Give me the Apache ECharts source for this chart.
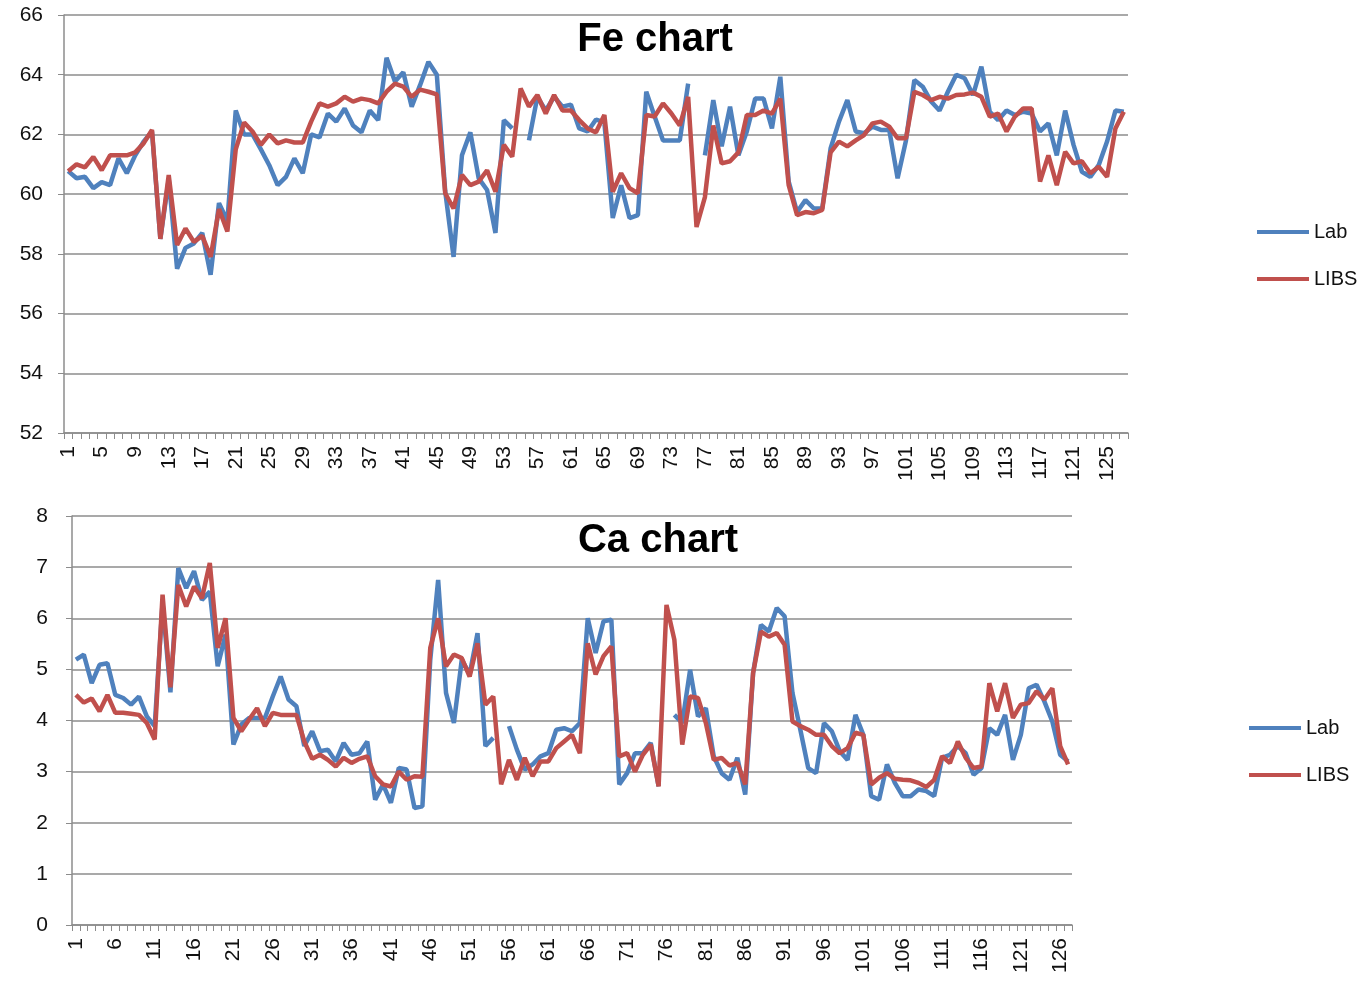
<!DOCTYPE html>
<html><head><meta charset="utf-8">
<script src="https://cdn.jsdelivr.net/npm/echarts@6/dist/echarts.min.js"></script>
<style>html,body{margin:0;padding:0;background:#fff}#c{width:1358px;height:982px}</style>
</head><body><div id="c"></div><script>
// categories 1..127 (sample numbers)
const categories = Array.from({length:127}, (_, k) => String(k + 1));

const feLab = [60.77,60.53,60.58,60.2,60.4,60.3,61.2,60.7,61.3,61.76,
62.1,58.5,60.5,57.5,58.2,58.35,58.7,57.3,59.7,59.1,
62.8,62.0,62.0,61.5,60.97,60.3,60.58,61.2,60.7,62.0,
61.9,62.7,62.43,62.87,62.3,62.07,62.8,62.48,64.57,63.77,
64.08,62.93,63.65,64.43,64.0,60.1,57.9,61.3,62.07,60.53,
60.14,58.7,62.48,62.2,null,61.8,63.26,62.8,63.26,62.93,
63.0,62.2,62.1,62.5,62.4,59.2,60.3,59.2,59.3,63.43,
62.6,61.8,61.8,61.8,63.7,null,61.3,63.15,61.6,62.93,
61.3,62.1,63.2,63.2,62.2,63.93,60.42,59.4,59.8,59.52,
59.52,61.53,62.43,63.15,62.1,62.04,62.26,62.15,62.15,60.53,
61.8,63.82,63.6,63.1,62.8,63.43,64.0,63.88,63.32,64.27,
62.76,62.48,62.8,62.65,62.76,62.7,62.1,62.37,61.3,62.8,
61.65,60.75,60.58,60.97,61.76,62.8,62.76];

const feLIBS = [60.77,61.0,60.9,61.25,60.8,61.3,61.3,61.3,61.4,61.7,
62.15,58.5,60.64,58.3,58.85,58.4,58.6,57.9,59.5,58.75,
61.5,62.4,62.1,61.65,62.0,61.7,61.8,61.73,61.73,62.43,
63.04,62.93,63.04,63.26,63.1,63.2,63.15,63.04,63.43,63.7,
63.6,63.26,63.5,63.43,63.34,60.03,59.52,60.64,60.3,60.42,
60.8,60.08,61.65,61.25,63.54,62.93,63.32,62.7,63.32,62.8,
62.8,62.48,62.2,62.07,62.65,60.08,60.7,60.2,60.03,62.65,
62.6,63.04,62.7,62.3,63.26,58.9,59.9,62.3,61.03,61.1,
61.4,62.65,62.65,62.8,62.7,63.2,60.3,59.3,59.4,59.36,
59.47,61.4,61.76,61.6,61.8,61.98,62.37,62.43,62.26,61.87,
61.87,63.43,63.32,63.15,63.26,63.2,63.32,63.34,63.4,63.26,
62.6,62.7,62.1,62.6,62.87,62.87,60.42,61.3,60.3,61.42,
61.03,61.1,60.7,60.92,60.58,62.2,62.76];

const caLab = [5.19,5.29,4.73,5.09,5.12,4.5,4.44,4.31,4.47,4.08,
3.89,6.3,4.55,6.98,6.59,6.92,6.36,6.52,5.06,5.68,
3.53,3.92,4.05,4.05,4.05,4.47,4.86,4.41,4.28,3.5,
3.79,3.4,3.43,3.2,3.56,3.33,3.36,3.59,2.45,2.75,
2.39,3.07,3.04,2.29,2.32,5.19,6.75,4.54,3.95,5.19,
4.9,5.71,3.5,3.66,null,3.89,3.43,3.04,3.14,3.3,
3.36,3.82,3.85,3.79,3.95,6.0,5.32,5.94,5.97,2.75,
2.97,3.36,3.36,3.56,2.71,null,4.11,3.95,4.99,4.08,
4.24,3.3,2.97,2.84,3.27,2.55,4.93,5.87,5.74,6.2,
6.04,4.54,3.82,3.07,2.97,3.95,3.79,3.4,3.23,4.11,
3.72,2.52,2.45,3.14,2.78,2.52,2.52,2.65,2.62,2.52,
3.27,3.33,3.5,3.36,2.94,3.07,3.85,3.72,4.11,3.23,
3.72,4.63,4.7,4.37,3.98,3.33,3.2];

const caLIBS = [4.5,4.35,4.43,4.18,4.5,4.15,4.15,4.13,4.11,3.95,
3.63,6.46,4.65,6.65,6.23,6.62,6.39,7.08,5.42,6.0,
4.05,3.79,4.02,4.24,3.89,4.15,4.11,4.11,4.11,3.59,
3.25,3.33,3.23,3.1,3.27,3.17,3.25,3.3,2.91,2.75,
2.71,3.0,2.84,2.91,2.9,5.42,6.0,5.06,5.29,5.22,
4.86,5.51,4.31,4.47,2.75,3.23,2.84,3.27,2.91,3.2,
3.2,3.46,3.59,3.72,3.36,5.51,4.9,5.26,5.45,3.3,
3.36,3.0,3.33,3.53,2.71,6.26,5.58,3.53,4.47,4.44,
3.95,3.23,3.27,3.12,3.17,2.75,4.93,5.74,5.64,5.71,
5.48,3.98,3.89,3.82,3.72,3.72,3.5,3.36,3.46,3.76,
3.72,2.75,2.88,2.97,2.86,2.84,2.83,2.78,2.7,2.84,
3.3,3.17,3.59,3.27,3.07,3.1,4.73,4.18,4.73,4.05,
4.31,4.34,4.57,4.41,4.63,3.5,3.14];

const seriesNames = ['Lab', 'LIBS'];
const colors = ['#4F81BD', '#C0504D'];

const FONT = 'Liberation Sans';
const gridColor = '#8c8c8c';

function xAxisFor(gi, interval) {
  return {
    type: 'category', gridIndex: gi, data: categories, boundaryGap: true,
    axisLine: {lineStyle: {color: gridColor, width: 1.5}},
    axisTick: {show: true, interval: 0, length: 6, lineStyle: {color: gridColor}},
    axisLabel: {interval: interval, rotate: 90, margin: 13, fontSize: 21, color: '#111', fontFamily: FONT}
  };
}
function yAxisFor(gi, min, max, interval, margin) {
  return {
    type: 'value', gridIndex: gi, min: min, max: max, interval: interval,
    axisLine: {show: true, lineStyle: {color: gridColor, width: 1.5}},
    axisTick: {show: true, length: 6, lineStyle: {color: gridColor}},
    splitLine: {lineStyle: {color: gridColor, width: 1.5}},
    axisLabel: {margin: margin, fontSize: 21, color: '#111', fontFamily: FONT}
  };
}
function lineSeries(name, data, gi, color) {
  return {
    name: name, type: 'line', xAxisIndex: gi, yAxisIndex: gi, data: data,
    symbol: 'none', showSymbol: false, connectNulls: false,
    lineStyle: {color: color, width: 4.5}, itemStyle: {color: color},
    animation: false
  };
}

const chart = echarts.init(document.getElementById('c'));
chart.setOption({
  backgroundColor: '#fff',
  animation: false,
  title: [
    {text: 'Fe chart', left: 650, top: 15, textAlign: 'center',
     textStyle: {fontSize: 40, fontWeight: 'bold', color: '#000', fontFamily: FONT}},
    {text: 'Ca chart', left: 653, top: 516, textAlign: 'center',
     textStyle: {fontSize: 40, fontWeight: 'bold', color: '#000', fontFamily: FONT}}
  ],
  legend: [
    {data: seriesNames, orient: 'vertical', left: 1257, top: 222, padding: 0, itemWidth: 52, itemHeight: 4,
     icon: 'rect', itemGap: 27, textStyle: {fontSize: 20, color: '#111', fontFamily: FONT}},
    {data: seriesNames, orient: 'vertical', left: 1249, top: 718, padding: 0, itemWidth: 52, itemHeight: 4,
     icon: 'rect', itemGap: 27, textStyle: {fontSize: 20, color: '#111', fontFamily: FONT}}
  ],
  grid: [
    {left: 64, top: 15, width: 1064, height: 418},
    {left: 72, top: 516, width: 1000, height: 409}
  ],
  xAxis: [xAxisFor(0, 3), xAxisFor(1, 4)],
  yAxis: [yAxisFor(0, 52, 66, 2, 21), yAxisFor(1, 0, 8, 1, 24)],
  series: [
    lineSeries('Lab', feLab, 0, colors[0]),
    lineSeries('LIBS', feLIBS, 0, colors[1]),
    lineSeries('Lab', caLab, 1, colors[0]),
    lineSeries('LIBS', caLIBS, 1, colors[1])
  ]
});
</script></body></html>
